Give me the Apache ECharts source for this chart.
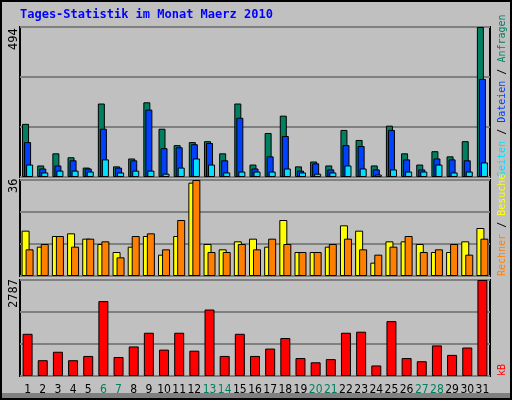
<!DOCTYPE html>
<html><head><meta charset="utf-8">
<script src="https://cdn.jsdelivr.net/npm/echarts@6/dist/echarts.min.js"></script>
<style>html,body{margin:0;padding:0;background:#c0c0c0}#c{width:512px;height:400px}</style>
</head><body><div id="c"></div>
<script>
var days = [];
for (var d = 1; d <= 31; d++) days.push(String(d));
var weekend = ['6','7','13','14','20','21','27','28'];
// Anfragen / Dateien / Seiten
var hits  = [175,38,78,65,31,242,35,61,246,159,105,115,118,78,242,41,145,202,35,51,38,155,122,38,169,78,41,85,68,118,494];
var files = [115,28,38,55,28,159,31,55,222,95,98,108,112,55,195,28,68,135,21,45,25,105,102,25,155,58,25,61,58,55,323];
var pages = [41,15,21,21,18,58,15,21,21,11,31,61,41,15,18,18,18,28,15,11,15,38,28,8,25,18,18,41,15,18,48];
// Besuche / Rechner
var visits = [17,11,15,16,14,12,9,11,15,8,15,35,12,10,13,14,11,21,9,9,11,19,17,5,13,13,12,9,9,13,18];
var sites  = [10,12,15,11,14,13,7,15,16,10,21,36,9,9,12,10,14,12,9,9,12,14,10,8,11,15,9,10,12,8,14];
// kB
var kbytes = [1225,459,704,459,582,2175,551,858,1256,766,1256,735,1930,582,1225,582,796,1103,521,398,490,1256,1286,306,1593,521,429,888,613,827,2787];

var mono = 'DejaVu Sans Mono';
var maxTop = Math.max.apply(null, hits), maxMid = Math.max.apply(null, sites.concat(visits)), maxKb = Math.max.apply(null, kbytes);

var grids = [
  {left: 20, right: 22, top: 27, height: 150},
  {left: 20, right: 22, top: 180, height: 96},
  {left: 20, right: 22, top: 280, height: 96}
];
grids.forEach(function (g) { g.show = true; g.borderColor = '#000'; g.borderWidth = 2; g.backgroundColor = '#c0c0c0'; });

function xa(i, labels) {
  return {type: 'category', gridIndex: i, data: days, boundaryGap: true,
    axisLine: {show: false}, axisTick: {show: false},
    axisLabel: labels ? {show: true, margin: 8, interval: 0,
      formatter: function (v) { return weekend.indexOf(v) >= 0 ? '{w|' + v + '}' : '{n|' + v + '}'; },
      rich: {w: {color: '#008060', fontSize: 12, fontFamily: 'DejaVu Sans Condensed'}, n: {color: '#000', fontSize: 12, fontFamily: 'DejaVu Sans Condensed'}}} : {show: false}};
}
function ya(i, max) {
  return {type: 'value', gridIndex: i, min: 0, max: max, interval: max / 3,
    axisLabel: {show: false}, axisLine: {show: false}, axisTick: {show: false},
    splitLine: {lineStyle: {color: '#808080', width: 2}}};
}
function bar(name, data, xi, color, w, gap) {
  return {name: name, type: 'bar', xAxisIndex: xi, yAxisIndex: xi, data: data, barWidth: w, barGap: gap,
    itemStyle: {color: color, borderColor: '#000', borderWidth: 1}, animation: false};
}
function vtext(x, y, parts) {
  var f = '10px ' + mono;
  return {type: 'text', x: x, y: y, rotation: Math.PI / 2,
    style: {text: parts.map(function (p, k) { return '{p' + k + '|' + p[0] + '}'; }).join(''),
      font: f, rich: parts.reduce(function (o, p, k) { o['p' + k] = {fill: p[1], font: f}; return o; }, {})}};
}

var chart = echarts.init(document.getElementById('c'));
chart.setOption({
  backgroundColor: '#c0c0c0',
  grid: grids,
  xAxis: [xa(0, false), xa(1, false), xa(2, true)],
  yAxis: [ya(0, maxTop), ya(1, maxMid), ya(2, maxKb)],
  series: [
    bar('Anfragen', hits, 0, '#008060', 7, '-71%'),
    bar('Dateien', files, 0, '#0040ff', 7, '-71%'),
    bar('Seiten', pages, 0, '#00e0ff', 7, '-71%'),
    bar('Besuche', visits, 1, '#ffff00', 8, '-50%'),
    bar('Rechner', sites, 1, '#ff8000', 8, '-50%'),
    bar('kB', kbytes, 2, '#ff0000', 10, '0%')
  ],
  graphic: [
    {type: 'rect', shape: {x: 1, y: 1, width: 510, height: 398}, style: {fill: 'none', stroke: '#000', lineWidth: 2}, z: 100},
    {type: 'rect', shape: {x: 2, y: 393, width: 508, height: 5}, style: {fill: '#808080'}},
    {type: 'text', x: 20, y: 9, style: {text: 'Tages-Statistik im Monat Maerz 2010', fill: '#0000ff', font: 'bold 12px ' + mono}},
    {type: 'text', x: 8, y: 50, rotation: Math.PI / 2, style: {text: String(maxTop), fill: '#000', font: '12px ' + mono}},
    {type: 'text', x: 8, y: 193, rotation: Math.PI / 2, style: {text: String(maxMid), fill: '#000', font: '12px ' + mono}},
    {type: 'text', x: 8, y: 308, rotation: Math.PI / 2, style: {text: String(maxKb), fill: '#000', font: '12px ' + mono}},
    vtext(497, 177, [['Seiten', '#00e0ff'], [' / ', '#000'], ['Dateien', '#0040ff'], [' / ', '#000'], ['Anfragen', '#008060']]),
    vtext(497, 276, [['Rechner', '#ff8000'], [' / ', '#000'], ['Besuche', '#ffff00']]),
    vtext(497, 376, [['kB', '#ff0000']])
  ]
});
</script></body></html>
